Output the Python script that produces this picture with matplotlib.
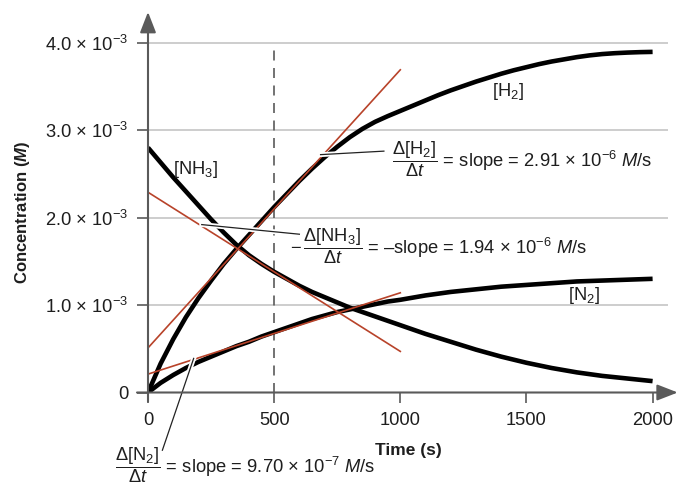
import matplotlib
matplotlib.use('Agg')
import matplotlib.pyplot as plt
import matplotlib.patheffects as pe

plt.rcParams['font.family'] = ['Liberation Sans', 'DejaVu Sans']
plt.rcParams['mathtext.fontset'] = 'custom'
plt.rcParams['mathtext.rm'] = 'Liberation Sans'
plt.rcParams['mathtext.it'] = 'Liberation Sans:italic'
plt.rcParams['mathtext.bf'] = 'Liberation Sans:bold'
HAS_BFIT = 'mathtext.bfit' in plt.rcParams
if HAS_BFIT:
    plt.rcParams['mathtext.bfit'] = 'Liberation Sans:italic:bold'

# ---------------- data (concentrations in units of 1e-3 M) ----------------
time_s = [0, 50, 100, 150, 200, 250, 300, 350, 400, 450, 500, 550, 600, 650, 700,
          750, 800, 850, 900, 950, 1000, 1050, 1100, 1150, 1200, 1250, 1300, 1350,
          1400, 1450, 1500, 1550, 1600, 1650, 1700, 1750, 1800, 1850, 1900, 1950, 2000]
h2 = [0, 0.33, 0.61, 0.86, 1.08, 1.28, 1.47, 1.64, 1.80, 1.96, 2.12, 2.27, 2.42,
      2.56, 2.69, 2.81, 2.92, 3.015, 3.095, 3.16, 3.22, 3.28, 3.34, 3.40, 3.455, 3.505,
      3.555, 3.60, 3.645, 3.685, 3.72, 3.755, 3.785, 3.81, 3.835, 3.855, 3.87, 3.88,
      3.887, 3.892, 3.895]
n2 = [0, 0.11, 0.20, 0.28, 0.35, 0.41, 0.47, 0.53, 0.58, 0.64, 0.69, 0.74, 0.79,
      0.84, 0.88, 0.92, 0.95, 0.98, 1.01, 1.04, 1.06, 1.085, 1.11, 1.13, 1.15, 1.165,
      1.18, 1.195, 1.21, 1.22, 1.23, 1.24, 1.25, 1.26, 1.27, 1.275, 1.28, 1.285, 1.29,
      1.295, 1.30]
nh3 = [2.80, 2.63, 2.46, 2.30, 2.14, 1.98, 1.83, 1.69, 1.57, 1.47, 1.38, 1.30, 1.22,
       1.15, 1.09, 1.03, 0.97, 0.92, 0.87, 0.82, 0.77, 0.72, 0.67, 0.625, 0.58, 0.535,
       0.49, 0.45, 0.41, 0.375, 0.34, 0.31, 0.28, 0.255, 0.23, 0.21, 0.19, 0.175, 0.16,
       0.145, 0.13]

tangent_t = [0, 1000]
h2_tangent = [0.51, 3.69]
nh3_tangent = [2.29, 0.47]
n2_tangent = [0.21, 1.14]

marker_time = 500  # dashed vertical line

h2_leader_t, h2_leader_c = [684, 935], [2.72, 2.76]
nh3_leader_t, nh3_leader_c = [213, 600], [1.92, 1.81]
n2_leader_t, n2_leader_c = [181, 57], [0.39, -0.66]

x_ticks = [0, 500, 1000, 1500, 2000]
x_tick_labels = ['0', '500', '1000', '1500', '2000']
y_ticks = [0, 1.0, 2.0, 3.0, 4.0]
y_tick_labels = ['0', r'1.0 × 10$^{-3}$', r'2.0 × 10$^{-3}$',
                 r'3.0 × 10$^{-3}$', r'4.0 × 10$^{-3}$']

SCALE = 1e-3
W, H = 678, 487

def P(x, y):
    return (x / W, 1 - y / H)

fig = plt.figure(figsize=(W / 100, H / 100), dpi=100)
XMAX, YMAX = 2060, 4.3e-3
ax_left, ax_bottom = 148 / W, (H - 392.5) / H
ax_w = (XMAX / 1000 * 252.3) / W
ax_h = (YMAX / SCALE * 87.45) / H
ax = fig.add_axes([ax_left, ax_bottom, ax_w, ax_h])
ax.set_xlim(0, XMAX)
ax.set_ylim(0, YMAX)
for s in ax.spines.values():
    s.set_visible(False)

AXC = '#5a5a5a'
RED = '#b8432a'
TXTC = '#1e1e1e'

# grid lines
ax.hlines([v * SCALE for v in y_ticks[1:]], 0, XMAX, color='#c9c9c9', lw=1.3, zorder=1)

# dashed line
ax.plot([marker_time, marker_time], [0, 4.0 * SCALE], color=AXC, lw=1.2,
        dashes=(6, 4.5), zorder=2)

# curves
for series in (h2, n2, nh3):
    ax.plot(time_s, [v * SCALE for v in series], color='black', lw=3.3,
            solid_capstyle='butt', solid_joinstyle='round', zorder=3)

# tangents
for tan in (h2_tangent, nh3_tangent, n2_tangent):
    ax.plot(tangent_t, [v * SCALE for v in tan], color=RED, lw=1.2, zorder=4)

# leaders
halo = [pe.withStroke(linewidth=3.5, foreground='white')]
for lt, lc in ((h2_leader_t, h2_leader_c), (nh3_leader_t, nh3_leader_c),
               (n2_leader_t, n2_leader_c)):
    ax.plot(lt, [v * SCALE for v in lc], color='#222222', lw=0.9, zorder=5,
            path_effects=halo, clip_on=False)

# axes with arrows
ax.annotate('', xy=(0, 1 + 4.5 / 376), xycoords='axes fraction',
            xytext=(0, -9 / 376), textcoords='axes fraction',
            arrowprops=dict(arrowstyle='-|>,head_length=0.9,head_width=0.35',
                            color=AXC, lw=1.5, shrinkA=0, shrinkB=0,
                            mutation_scale=14), zorder=6)
ax.annotate('', xy=(1 + 10 / 519.7, 0), xycoords='axes fraction',
            xytext=(-11 / 519.7, 0), textcoords='axes fraction',
            arrowprops=dict(arrowstyle='-|>,head_length=0.9,head_width=0.35',
                            color=AXC, lw=1.5, shrinkA=0, shrinkB=0,
                            mutation_scale=14), zorder=6)

ax.set_xticks(x_ticks)
ax.set_xticklabels(x_tick_labels)
ax.set_yticks([v * SCALE for v in y_ticks])
ax.set_yticklabels(y_tick_labels)
ax.tick_params(axis='x', direction='out', length=7, width=1.2, color=AXC,
               labelsize=13.2, pad=7, labelcolor=TXTC)
ax.tick_params(axis='y', direction='out', length=8, width=1.2, color=AXC,
               labelsize=13.2, pad=6, labelcolor=TXTC)

ylab = r'Concentration ($\mathbfit{M}$)' if HAS_BFIT else r'Concentration ($\mathit{M}$)'
fig.text(*P(23, 212), ylab, rotation=90, ha='center', va='center',
         fontsize=12, fontweight='bold', color=TXTC)
fig.text(*P(408, 451), 'Time (s)', ha='center', va='center', fontsize=12.5,
         fontweight='bold', color=TXTC)

TXT = dict(fontsize=13.2, color=TXTC)
fig.text(*P(196, 169), r'[NH$_3$]', ha='center', va='center', **TXT)
fig.text(*P(508, 92), r'[H$_2$]', ha='center', va='center', **TXT)
fig.text(*P(584, 296), r'[N$_2$]', ha='center', va='center', **TXT)

fig.text(*P(392, 159),
         r'$\dfrac{\Delta[\mathrm{H}_2]}{\Delta t}$ = slope = 2.91 × 10$^{-6}$ $M$/s',
         ha='left', va='center', **TXT)
fig.text(*P(290, 246),
         r'$-\,\dfrac{\Delta[\mathrm{NH}_3]}{\Delta t}$ = –slope = 1.94 × 10$^{-6}$ $M$/s',
         ha='left', va='center', **TXT)
fig.text(*P(115, 465),
         r'$\dfrac{\Delta[\mathrm{N}_2]}{\Delta t}$ = slope = 9.70 × 10$^{-7}$ $M$/s',
         ha='left', va='center', **TXT)

fig.savefig('out.png', dpi=100)
